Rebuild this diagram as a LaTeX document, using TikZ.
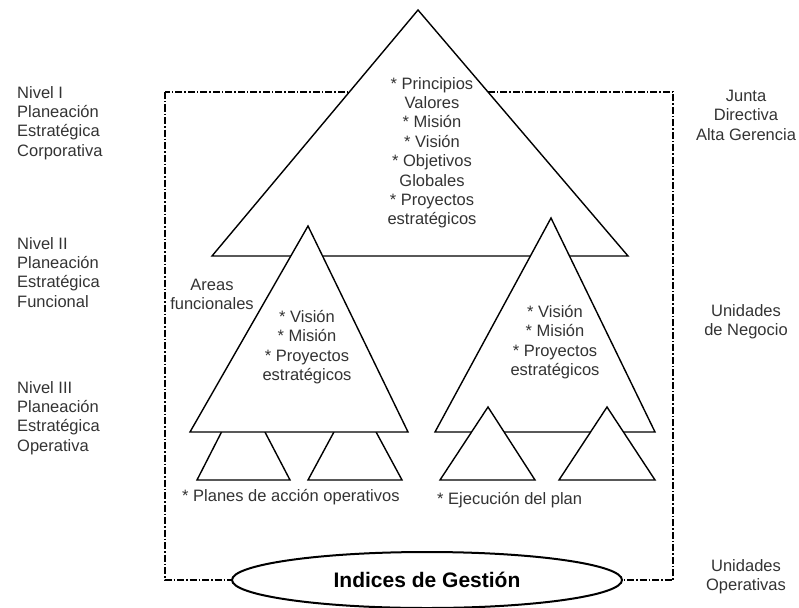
\documentclass[tikz,border=0pt]{standalone}
\usepackage{fontspec}
\setmainfont{Liberation Sans}
\usetikzlibrary{shapes.geometric}
\begin{document}
\begin{tikzpicture}[x=1pt,y=-1pt,
  txt/.style={inner sep=0pt, font=\fontsize{16.5}{19.4}\selectfont, text=black!80},
  tri/.style={draw=black, fill=white, line width=1.4pt, line join=miter},
  frame/.style={draw=black, line width=1.6pt, dash pattern=on 7pt off 2pt on 1.5pt off 2pt}]
\useasboundingbox (0,0) rectangle (799,607);
% frame
\draw[frame] (165,92) rectangle (673,580);
% big triangle
\coordinate (A) at (418,10); \coordinate (B) at (212,256); \coordinate (C) at (628,256);
\draw[tri] (A) -- (B) -- (C) -- cycle;
% small triangles under left middle triangle
\draw[tri] (243,390) -- (197,480) -- (290,480) -- cycle;
\draw[tri] (355,393) -- (308,480) -- (402,480) -- cycle;
% middle triangles
\draw[tri] (308,226) -- (190,432) -- (408,432) -- cycle;
\draw[tri] (551,218) -- (435,432) -- (655,432) -- cycle;
% small triangles over right middle triangle
\draw[tri] (488,407) -- (440,480) -- (535,480) -- cycle;
\draw[tri] (607,407) -- (559,480) -- (655,480) -- cycle;
% ellipse
\node[ellipse, draw=black, fill=white, line width=2pt, minimum width=390pt, minimum height=56pt, inner sep=0pt,
  font=\fontsize{21}{24}\selectfont\bfseries] (ig) at (427,580) {Indices de Gestión};
% texts
\node[txt, anchor=north, align=center] (t1) at (432,77) {* Principios\\Valores\\* Misión\\* Visión\\* Objetivos\\Globales\\* Proyectos\\estratégicos};
\node[txt, anchor=north, align=center] (t2) at (307,310) {* Visión\\* Misión\\* Proyectos\\estratégicos};
\node[txt, anchor=north, align=center] (t3) at (555,305) {* Visión\\* Misión\\* Proyectos\\estratégicos};
\node[txt, anchor=north, align=center] (af) at (212,279) {Areas\\funcionales};
\node[txt, anchor=base west] (pa) at (182,501) {* Planes de acción operativos};
\node[txt, anchor=base west] (ej) at (437,504) {* Ejecución del plan};
\node[txt, anchor=north west, align=left] (n1) at (17,86) {Nivel I\\Planeación\\Estratégica\\Corporativa};
\node[txt, anchor=north west, align=left] (n2) at (17,237) {Nivel II\\Planeación\\Estratégica\\Funcional};
\node[txt, anchor=north west, align=left] (n3) at (17,381) {Nivel III\\Planeación\\Estratégica\\Operativa};
\node[txt, anchor=north, align=center] (r1) at (746,90) {Junta\\Directiva\\Alta Gerencia};
\node[txt, anchor=north, align=center] (r2) at (746,304) {Unidades\\de Negocio};
\node[txt, anchor=north, align=center] (r3) at (746,559) {Unidades\\Operativas};
\end{tikzpicture}
\end{document}
